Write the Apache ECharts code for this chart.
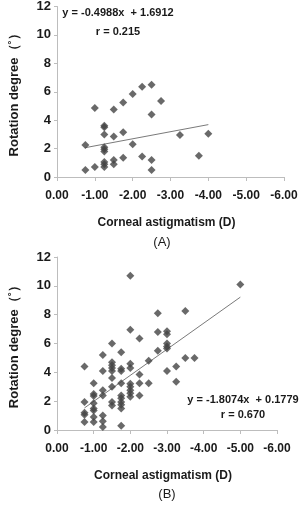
<!DOCTYPE html>
<html>
<head>
<meta charset="utf-8">
<script src="https://cdn.jsdelivr.net/npm/echarts@6/dist/echarts.min.js"></script>
<style>
  html, body { margin: 0; padding: 0; background: #fff; }
  #chart { width: 302px; height: 505px; }
</style>
</head>
<body>
<div id="chart"></div>
<script>
/* Panel (A): corneal astigmatism (D) vs rotation degree */
const astigA = [
  -0.75, -0.75,
  -1.0, -1.0,
  -1.25, -1.25, -1.25, -1.25, -1.25, -1.25, -1.25, -1.25, -1.25,
  -1.5, -1.5, -1.5, -1.5,
  -1.75, -1.75, -1.75,
  -2.0, -2.0,
  -2.25, -2.25,
  -2.5, -2.5, -2.5, -2.5,
  -2.75, -3.25, -3.75, -4.0,
];
const rotationA = [
  2.25, 0.5,
  4.85, 0.7,
  3.6, 3.5, 3.0, 2.1, 1.95, 1.8, 1.05, 0.9, 0.7,
  4.75, 2.85, 1.2, 0.9,
  5.25, 3.15, 1.35,
  5.85, 2.3,
  6.35, 1.45,
  6.5, 4.4, 1.2, 0.5,
  5.35, 2.95, 1.5, 3.05,
];

/* Panel (B) */
const astigB = [
  -0.75, -0.75, -0.75, -0.75, -0.75,
  -1.0, -1.0, -1.0, -1.0, -1.0, -1.0, -1.0, -1.0,
  -1.25, -1.25, -1.25, -1.25, -1.25, -1.25, -1.25,
  -1.5, -1.5, -1.5, -1.5, -1.5, -1.5, -1.5, -1.5, -1.5,
  -1.75, -1.75, -1.75, -1.75, -1.75, -1.75, -1.75, -1.75, -1.75, -1.75,
  -2.0, -2.0, -2.0, -2.0, -2.0, -2.0, -2.0, -2.0, -2.0,
  -2.25, -2.25, -2.25, -2.25,
  -2.5, -2.5,
  -2.75, -2.75, -2.75,
  -3.0, -3.0, -3.0, -3.0, -3.0, -3.0,
  -3.25, -3.25,
  -3.5, -3.5,
  -3.75,
  -5.0,
];
const rotationB = [
  4.4, 1.95, 1.2, 1.05, 0.55,
  3.25, 2.5, 2.35, 1.85, 1.5, 1.35, 0.9, 0.55,
  5.2, 4.1, 2.75, 2.4, 1.0, 0.6, 0.2,
  6.0, 4.7, 4.5, 4.3, 4.1, 3.6, 3.0, 1.95, 1.7,
  5.4, 4.25, 4.1, 3.25, 2.4, 2.2, 1.95, 1.75, 1.5, 0.3,
  10.7, 6.95, 4.6, 4.3, 3.2, 3.0, 2.75, 2.55, 2.3,
  6.35, 3.85, 3.25, 2.4,
  4.8, 3.25,
  8.1, 6.8, 5.5,
  6.85, 6.65, 6.0, 5.8, 5.65, 4.1,
  4.4, 3.35,
  8.25, 5.0,
  5.0,
  10.1,
];

/* Regression fits printed on the figure */
const fitA = { slope: -0.4988, intercept: 1.6912, r: 0.215 };
const fitB = { slope: -1.8074, intercept: 0.1779, r: 0.670 };

const xTicks = [0, -1, -2, -3, -4, -5, -6];
const yTicks = [0, 2, 4, 6, 8, 10, 12];

const FONT = "'Liberation Sans', Arial, sans-serif";
const MARK = "#444444";

function pairs(xs, ys) {
  return xs.map(function (x, i) { return [x, ys[i]]; });
}

function fitLine(xs, fit) {
  const lo = Math.max.apply(null, xs);
  const hi = Math.min.apply(null, xs);
  return [lo, hi].map(function (x) { return [x, fit.slope * x + fit.intercept]; });
}

function xAxis(idx) {
  return {
    type: "value",
    gridIndex: idx,
    inverse: true,
    min: xTicks[xTicks.length - 1],
    max: xTicks[0],
    interval: 1,
    name: "Corneal astigmatism (D)",
    nameLocation: "middle",
    nameGap: 40,
    nameTextStyle: { fontFamily: FONT, fontWeight: "bold", fontSize: 12, color: "#1a1a1a", padding: [0, 8, 0, 0] },
    axisLine: { onZero: false, lineStyle: { color: "#bdbdbd", width: 1 } },
    axisTick: { show: true, length: 4, lineStyle: { color: "#bdbdbd" } },
    axisLabel: {
      margin: 13,
      fontFamily: FONT, fontWeight: "bold", fontSize: 12, color: "#1a1a1a",
      formatter: function (v) { return v.toFixed(2); },
    },
    splitLine: { show: false },
  };
}

function yAxis(idx) {
  return {
    type: "value",
    gridIndex: idx,
    min: yTicks[0],
    max: yTicks[yTicks.length - 1],
    interval: 2,
    name: "Rotation degree（˚）",
    nameLocation: "middle",
    nameGap: 36,
    nameTextStyle: { fontFamily: FONT, fontWeight: "bold", fontSize: 13, color: "#1a1a1a" },
    axisLine: { show: true, onZero: false, lineStyle: { color: "#bdbdbd", width: 1 } },
    axisTick: { show: true, length: 3, lineStyle: { color: "#bdbdbd" } },
    axisLabel: { margin: 6, fontFamily: FONT, fontWeight: "bold", fontSize: 13, color: "#1a1a1a" },
    splitLine: { show: false },
  };
}

function scatter(idx, data) {
  return {
    type: "scatter",
    xAxisIndex: idx, yAxisIndex: idx,
    symbol: "diamond",
    symbolSize: 8,
    itemStyle: { color: MARK },
    data: data,
    z: 3,
  };
}

function trend(idx, data) {
  return {
    type: "line",
    xAxisIndex: idx, yAxisIndex: idx,
    symbol: "none",
    lineStyle: { color: "#7a7a7a", width: 1 },
    data: data,
    z: 2,
  };
}

function txt(x, y, s, size, weight) {
  return {
    type: "text", x: x, y: y,
    style: {
      text: s, align: "center", verticalAlign: "middle",
      fontFamily: FONT, fontSize: size, fontWeight: weight || "bold", fill: "#1a1a1a",
    },
  };
}

function eqText(fit) {
  return "y = " + fit.slope.toFixed(4) + "x  + " + fit.intercept.toFixed(4);
}

const chart = echarts.init(document.getElementById("chart"), null, { renderer: "canvas" });

chart.setOption({
  animation: false,
  backgroundColor: "#fff",
  grid: [
    { left: 49, top: 3, width: 235, height: 174 },
    { left: 49, top: 257, width: 228, height: 173 },
  ],
  xAxis: [xAxis(0), xAxis(1)],
  yAxis: [yAxis(0), yAxis(1)],
  series: [
    trend(0, fitLine(astigA, fitA)),
    scatter(0, pairs(astigA, rotationA)),
    trend(1, fitLine(astigB, fitB)),
    scatter(1, pairs(astigB, rotationB)),
  ],
  graphic: [
    txt(118, 13, eqText(fitA), 11),
    txt(118, 32, "r = " + fitA.r.toFixed(3), 11),
    txt(162, 242, "(A)", 13, "normal"),
    txt(243, 400, eqText(fitB), 11),
    txt(243, 415, "r = " + fitB.r.toFixed(3), 11),
    txt(167, 494, "(B)", 13, "normal"),
  ],
});
</script>
</body>
</html>
